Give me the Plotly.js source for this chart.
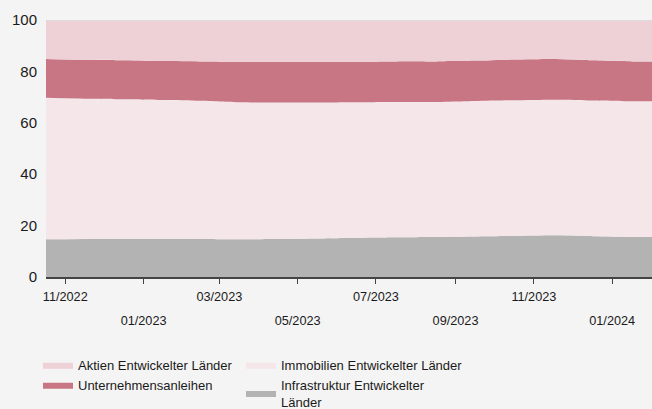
<!DOCTYPE html>
<html>
<head>
<meta charset="utf-8">
<script src="https://cdn.plot.ly/plotly-3.0.1.min.js"></script>
<style>
  html, body { margin: 0; padding: 0; background: #f4f4f4; }
  #chart { width: 652px; height: 409px; }
</style>
</head>
<body>
<div id="chart"></div>
<script>
// Month-end observation dates
const dates = [
  "2022-10-31","2022-11-30","2022-12-31","2023-01-31","2023-02-28","2023-03-31",
  "2023-04-30","2023-05-31","2023-06-30","2023-07-31","2023-08-31","2023-09-30",
  "2023-10-31","2023-11-30","2023-12-31","2024-01-31","2024-02-29"
];

// Portfolio weights in % (stacked from the bottom up)
const infrastruktur = [14.7,14.8,14.9,14.9,14.8,14.7,14.8,15.0,15.3,15.5,15.6,15.8,16.0,16.2,15.9,15.6,15.6];
const immobilien    = [55.0,54.6,54.3,54.0,53.8,53.3,53.1,52.9,52.7,52.6,52.5,52.7,52.8,52.8,52.8,52.8,52.7];
const unternehmensanleihen = [15.1,15.1,15.1,15.1,15.3,15.8,15.9,15.9,15.8,15.8,15.8,15.7,15.8,15.8,15.6,15.5,15.6];
const aktien        = [15.2,15.5,15.7,16.0,16.1,16.2,16.2,16.2,16.2,16.1,16.1,15.8,15.4,15.2,15.7,16.1,16.1];

const seriesNames = [
  "Infrastruktur Entwickelter<br>Länder",
  "Immobilien Entwickelter Länder",
  "Unternehmensanleihen",
  "Aktien Entwickelter Länder"
];
const seriesColors = ["#b3b3b3", "#f5e6e9", "#c87683", "#eed1d7"];
const legendGroups = ["legend2", "legend2", "legend", "legend"];
const legendRanks = [2, 1, 2, 1];
const seriesValues = [infrastruktur, immobilien, unternehmensanleihen, aktien];

// Tick labels
const tickDates = ["2022-11-15","2023-01-15","2023-03-15","2023-05-15","2023-07-15","2023-09-15","2023-11-15","2024-01-15"];
const tickLabels = ["11/2022","01/2023","03/2023","05/2023","07/2023","09/2023","11/2023","01/2024"];

const xRange = ["2022-10-31", "2024-02-15"];

const traces = seriesValues.map((vals, i) => ({
  type: "scatter",
  x: dates,
  y: vals,
  name: seriesNames[i],
  stackgroup: "one",
  mode: "lines",
  line: { width: 0, shape: "spline", smoothing: 0.6, color: seriesColors[i] },
  fillcolor: seriesColors[i],
  legend: legendGroups[i],
  legendrank: legendRanks[i],
  hoverinfo: "x+y+name"
}));

// carrier for the second row of x tick labels
traces.push({
  type: "scatter",
  x: dates,
  y: dates.map(() => null),
  xaxis: "x2",
  yaxis: "y",
  mode: "lines",
  showlegend: false,
  hoverinfo: "skip"
});

const row1 = tickLabels.map((t, i) => (i % 2 === 0 ? t : ""));
const row2Vals = tickDates.filter((d, i) => i % 2 === 1);
const row2Text = tickLabels.filter((t, i) => i % 2 === 1);

const legendCommon = {
  orientation: "v",
  xref: "container",
  yref: "container",
  xanchor: "left",
  yanchor: "top",
  y: 0.1447,
  bgcolor: "rgba(0,0,0,0)",
  font: { size: 13, color: "#1a1a1a" },
  traceorder: "normal",
  itemwidth: 30,
  tracegroupgap: 0
};

const layout = {
  width: 652,
  height: 409,
  paper_bgcolor: "#f4f4f4",
  plot_bgcolor: "#f4f4f4",
  margin: { l: 46, r: 0, t: 20, b: 132, autoexpand: false },
  font: { family: "Liberation Sans, Arial, sans-serif", color: "#1a1a1a" },
  showlegend: true,
  xaxis: {
    type: "date",
    range: xRange,
    tickmode: "array",
    tickvals: tickDates,
    ticktext: row1,
    ticks: "outside",
    ticklen: 5,
    tickwidth: 1,
    tickcolor: "#444",
    showline: true,
    linecolor: "#444",
    linewidth: 1.5,
    showgrid: false,
    zeroline: false,
    tickangle: 0,
    automargin: false,
    ticklabelstandoff: 2,
    tickfont: { size: 12.7, color: "#1a1a1a" },
    fixedrange: true
  },
  xaxis2: {
    type: "date",
    overlaying: "x",
    anchor: "y",
    side: "bottom",
    range: xRange,
    tickmode: "array",
    tickvals: row2Vals,
    ticktext: row2Text,
    ticks: "",
    showline: false,
    showgrid: false,
    zeroline: false,
    tickangle: 0,
    automargin: false,
    ticklabelstandoff: 34,
    tickfont: { size: 12.7, color: "#1a1a1a" },
    fixedrange: true
  },
  yaxis: {
    range: [0, 100],
    tickmode: "array",
    tickvals: [0, 20, 40, 60, 80, 100],
    ticks: "",
    showline: false,
    showgrid: false,
    zeroline: false,
    automargin: false,
    ticklabelstandoff: 8,
    tickfont: { size: 15, color: "#1a1a1a" },
    fixedrange: true
  },
  shapes: [{
    type: "line", xref: "paper", yref: "y",
    x0: 0, x1: 1, y0: 100, y1: 100,
    line: { color: "#dcdcdc", width: 2 },
    layer: "above"
  }],
  legend: Object.assign({}, legendCommon, { x: 38 / 652 }),
  legend2: Object.assign({}, legendCommon, { x: 241 / 652 })
};

Plotly.newPlot("chart", traces, layout, { displayModeBar: false, staticPlot: true });
</script>
</body>
</html>
